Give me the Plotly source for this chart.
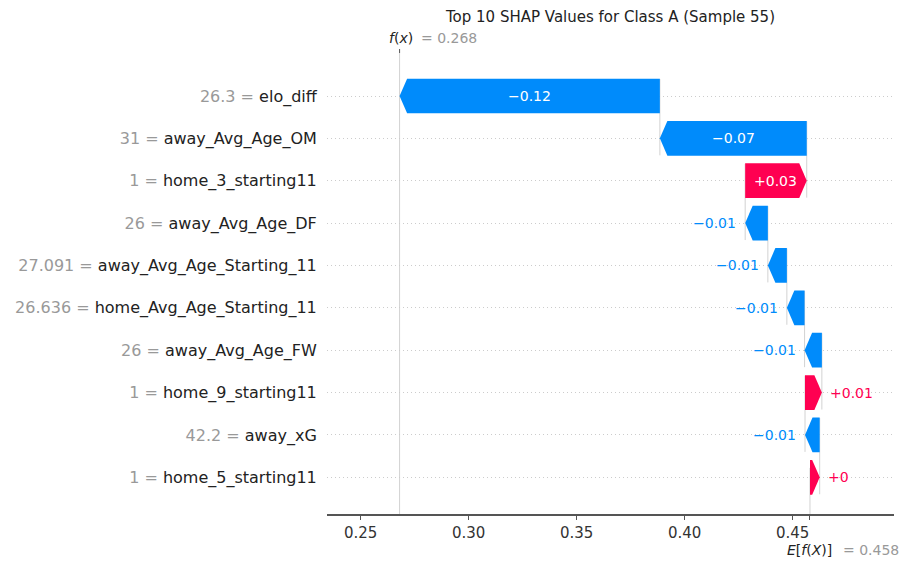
import plotly.graph_objects as go

# Top-10 feature contributions for one prediction (waterfall order, top to bottom)
features = ["elo_diff", "away_Avg_Age_OM", "home_3_starting11", "away_Avg_Age_DF",
            "away_Avg_Age_Starting_11", "home_Avg_Age_Starting_11", "away_Avg_Age_FW",
            "home_9_starting11", "away_xG", "home_5_starting11"]
feature_values = [26.3, 31, 1, 26, 27.091, 26.636, 26, 1, 42.2, 1]
shap_values = [-0.1205, -0.0680, 0.0285, -0.0105, -0.0088, -0.0082, -0.0080,
               0.0078, -0.0068, 0.0045]
base_value = 0.458
x_ticks = [0.25, 0.30, 0.35, 0.40, 0.45]
title_text = "Top 10 SHAP Values for Class A (Sample 55)"

RED = "#ff0051"
BLUE = "#008bfb"
FONT = "DejaVu Sans"

W, H = 902, 563
ML, MR, MT, MB = 327, 8, 53, 49
X_RANGE = [0.2344, 0.4969]
Y_RANGE = [9.866, -1.015]
px_per_unit = (W - ML - MR) / (X_RANGE[1] - X_RANGE[0])

BAR_HALF = 0.41
HEAD = 7.5 / px_per_unit


def fmt_value(v):
    s = f"{v:.3f}".rstrip("0").rstrip(".")
    return s


def fmt_shap(v):
    s = f"{v:+.2f}".rstrip("0").rstrip(".")
    return s.replace("-", "\u2212")


n = len(features)
starts = [0.0] * n
ends = [0.0] * n
cur = base_value
for i in reversed(range(n)):
    starts[i] = cur
    cur += shap_values[i]
    ends[i] = cur
fx = cur

fig = go.Figure()

# connector lines from each bar's start down to the bar below
shapes = []
for i in range(n - 1):
    shapes.append(dict(type="line", xref="x", yref="y", x0=starts[i], x1=starts[i],
                       y0=i - 0.4, y1=i + 1 + 0.4, layer="below",
                       line=dict(color="#d2d2d2", width=1)))
# f(x) reference line, full height, and E[f(X)] line near the axis
shapes.append(dict(type="line", xref="x", yref="paper", x0=fx, x1=fx, y0=0, y1=1,
                   layer="below", line=dict(color="#d2d2d2", width=1)))
shapes.append(dict(type="line", xref="x", yref="paper", x0=base_value, x1=base_value,
                   y0=0, y1=1.0 / n, layer="below", line=dict(color="#d2d2d2", width=1)))
# small top tick at f(x)
shapes.append(dict(type="line", xref="x", yref="paper", x0=fx, x1=fx, y0=1,
                   y1=1 + 4.0 / (H - MT - MB), line=dict(color="#555555", width=1)))

annotations = []
for i, v in enumerate(shap_values):
    s, e = starts[i], ends[i]
    hl = min(HEAD, abs(v))
    d = 1 if v > 0 else -1
    xs = [s, e - d * hl, e, e - d * hl, s, s]
    ys = [i - BAR_HALF, i - BAR_HALF, i, i + BAR_HALF, i + BAR_HALF, i - BAR_HALF]
    color = RED if v > 0 else BLUE
    fig.add_trace(go.Scatter(x=xs, y=ys, mode="lines", fill="toself", fillcolor=color,
                             line=dict(width=0, color=color), hoverinfo="skip",
                             showlegend=False))
    label = fmt_shap(v)
    text_px = len(label) * 0.62 * 14
    if abs(v) * px_per_unit > text_px + 12:
        annotations.append(dict(x=(s + e) / 2, y=i, xref="x", yref="y", text=label,
                                showarrow=False, xanchor="center", yanchor="middle",
                                font=dict(family=FONT, size=14, color="white")))
    else:
        annotations.append(dict(x=e, y=i, xref="x", yref="y", text=label,
                                showarrow=False,
                                xanchor="left" if v > 0 else "right",
                                xshift=6 if v > 0 else -7, yanchor="middle",
                                font=dict(family=FONT, size=14, color=color)))

# f(x) label above the plot
annotations.append(dict(x=fx, y=1, xref="x", yref="paper", yshift=15,
                        text="<i>f</i>(<i>x</i>)", showarrow=False, xanchor="right",
                        xshift=15, yanchor="middle",
                        font=dict(family=FONT, size=14, color="#222222")))
annotations.append(dict(x=fx, y=1, xref="x", yref="paper", yshift=15,
                        text=f"= {fx:.3f}", showarrow=False, xanchor="left",
                        xshift=19, yanchor="middle",
                        font=dict(family=FONT, size=14, color="#999999")))
# E[f(X)] label below the axis
annotations.append(dict(x=base_value, y=0, xref="x", yref="paper", yshift=-36,
                        text="<i>E</i>[<i>f</i>(<i>X</i>)]", showarrow=False,
                        xanchor="right", xshift=24, yanchor="middle",
                        font=dict(family=FONT, size=14, color="#222222")))
annotations.append(dict(x=base_value, y=0, xref="x", yref="paper", yshift=-36,
                        text=f"= {base_value:.3f}", showarrow=False, xanchor="left",
                        xshift=31, yanchor="middle",
                        font=dict(family=FONT, size=14, color="#999999")))

tick_text = [f"<span style='color:#999999'>{fmt_value(fv)} = </span>{name}"
             for fv, name in zip(feature_values, features)]

fig.update_layout(
    width=W, height=H,
    margin=dict(l=ML, r=MR, t=MT, b=MB),
    paper_bgcolor="white", plot_bgcolor="white",
    font=dict(family=FONT, color="#222222"),
    title=dict(text=title_text, x=0.5, xref="paper", xanchor="center",
               y=1 - 17.0 / H, yref="container", yanchor="middle",
               font=dict(family=FONT, size=15, color="#222222")),
    xaxis=dict(range=X_RANGE, tickvals=x_ticks + [base_value],
               ticktext=[f"{t:.2f}" for t in x_ticks] + [""],
               ticks="outside", ticklen=4, tickcolor="#555555", tickwidth=1,
               showline=True, linecolor="#555555", linewidth=1.5,
               showgrid=False, zeroline=False,
               tickfont=dict(family=FONT, size=15, color="#333333")),
    yaxis=dict(range=Y_RANGE, tickvals=list(range(n)), ticktext=tick_text,
               ticks="outside", ticklen=6, tickcolor="rgba(0,0,0,0)",
               showline=False, zeroline=False,
               showgrid=True, gridcolor="#cccccc", gridwidth=1, griddash="1px,3px",
               tickfont=dict(family=FONT, size=16, color="#222222")),
    shapes=shapes,
    annotations=annotations,
)

fig.write_html("out.html")
